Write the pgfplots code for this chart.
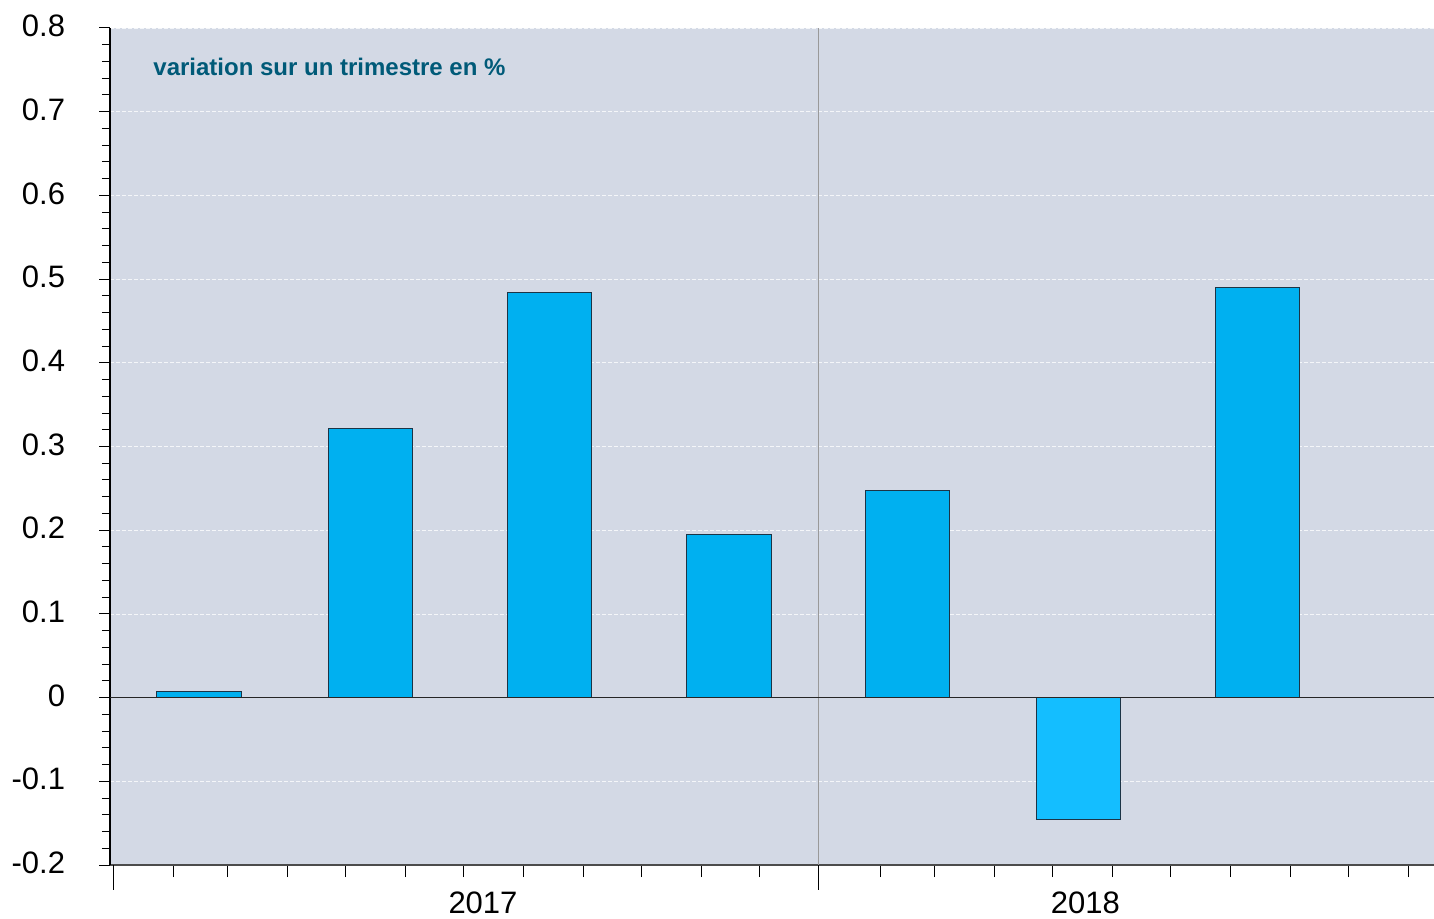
\documentclass[border=0pt]{standalone}
\usepackage{pgfplots}
\pgfplotsset{compat=1.18}
\usepackage{fontspec}
\setmainfont{Liberation Sans}

\definecolor{bgcol}{HTML}{D3D9E5}
\definecolor{barblue}{HTML}{00B0F0}
\definecolor{barneg}{HTML}{14BEFF}
\definecolor{baredge}{HTML}{1C3446}
\definecolor{notecol}{HTML}{005A78}

\begin{document}
\begin{tikzpicture}
	\begin{axis}[
			at={(0,0)}, anchor=south west,
			scale only axis,
			width=662pt, height=418.5pt,
			xmin=-1.55, xmax=681.95, ymin=-0.2, ymax=0.8,
			axis background/.style={fill=bgcol},
			axis x line*=bottom, axis y line*=left,
			x axis line style={gray!60!black, line width=0.6pt},
			y axis line style={black, line width=0.6pt},
			tick align=outside,
			xtick={0,31,59,90,120,151,181,212,243,273,304,334,
					364,396,424,455,485,516,546,577,608,638,669},
			xticklabels={},
			xtick style={black, line width=0.5pt, /pgfplots/major tick length=6pt},
			ytick={-0.2,-0.1,0,0.1,0.2,0.3,0.4,0.5,0.6,0.7,0.8},
			yticklabels={-0.2,-0.1,0,0.1,0.2,0.3,0.4,0.5,0.6,0.7,0.8},
			minor y tick num=4,
			ytick style={black, line width=0.5pt,
					/pgfplots/major tick length=5.5pt, /pgfplots/minor tick length=4pt},
			yticklabel style={font=\fontsize{15.5}{18}\selectfont, anchor=east,
					inner sep=0pt, xshift=-18pt, yshift=1pt},
			ymajorgrids,
			major grid style={white!75!bgcol, dash pattern=on 2pt off 1pt, line width=0.4pt},
			ybar, bar width=43.4,
			clip=false,
		]
		\draw[gray!80, line width=0.5pt] (axis cs:364,-0.2) -- (axis cs:364,0.8);
		% longer ticks at the start of each year
		\draw[black, line width=0.5pt] (axis cs:0,-0.2) -- ([yshift=-12.5pt]axis cs:0,-0.2);
		\draw[black, line width=0.5pt] (axis cs:364,-0.2) -- ([yshift=-12.5pt]axis cs:364,-0.2);
		\addplot[bar shift=0pt, fill=barblue, draw=baredge, line width=0.5pt]
		coordinates {(44.4,0.007) (132.7,0.321) (225.4,0.484) (318,0.195)
				(410,0.247) (590.6,0.490)};
		\addplot[bar shift=0pt, fill=barneg, draw=baredge, line width=0.5pt]
		coordinates {(498.2,-0.146)};
		\draw[gray!30!black, line width=0.6pt] (axis cs:-1.55,0) -- (axis cs:681.95,0);
		\node[anchor=west, inner sep=0pt, font=\fontsize{12}{14}\selectfont\bfseries, text=notecol]
		at (rel axis cs:0.0325,0.953) {variation sur un trimestre en \%};
		\node[font=\fontsize{15.5}{18}\selectfont] at (axis cs:191,-0.2) [yshift=-19pt] {2017};
		\node[font=\fontsize{15.5}{18}\selectfont] at (axis cs:502,-0.2) [yshift=-19pt] {2018};
	\end{axis}
	\pgfresetboundingbox
	\path[use as bounding box] (-55pt,-26.5pt) rectangle (662pt,432.5pt);
\end{tikzpicture}
\end{document}
